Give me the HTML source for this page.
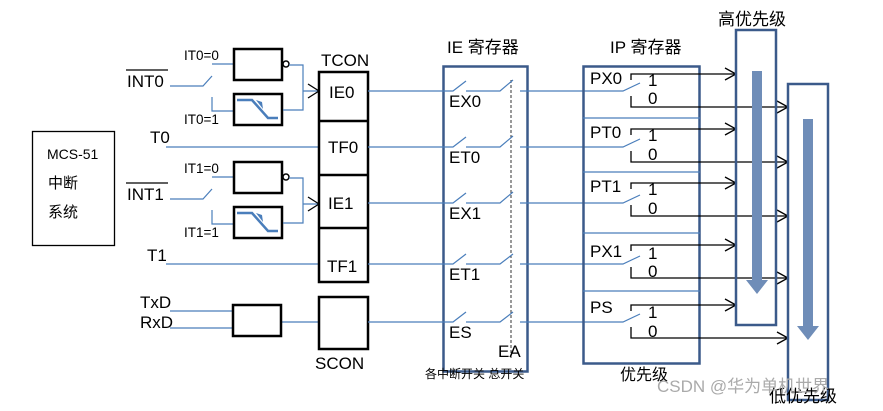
<!DOCTYPE html>
<html><head><meta charset="utf-8"><style>
body{margin:0;background:#fff}
svg{display:block}
text{font-family:"Liberation Sans","Noto Sans CJK SC",sans-serif;font-size:17px;fill:#000}
.s{font-size:13.5px}
.b{stroke:#4a7ebb;stroke-width:1.2;fill:none}
.k{stroke:#000;stroke-width:1.3;fill:none}
.bx{stroke:#000;stroke-width:2.5;fill:#fff}
.nb{stroke:#3b5a8a;stroke-width:2.5;fill:none}
</style></head><body>
<svg width="883" height="411" viewBox="0 0 883 411" xmlns="http://www.w3.org/2000/svg">
<rect x="32.5" y="131.5" width="82" height="114" fill="none" stroke="#000" stroke-width="1.3"/>
<text x="47" y="159" style="font-size:14px">MCS-51</text>
<text x="48" y="188" style="font-size:15px">中断</text>
<text x="48" y="217" style="font-size:15px">系统</text>

<g id="g0">
<text x="127" y="87">INT0</text>
<line x1="126" y1="70" x2="168" y2="70" stroke="#000" stroke-width="1.2"/>
<text x="184" y="60" class="s">IT0=0</text>
<text x="184" y="124" class="s">IT0=1</text>
<path class="b" d="M170 86H203L212 76M212 64H234M212 97V111H234"/>
<rect class="bx" x="234" y="49" width="48" height="31"/>
<circle cx="286" cy="64" r="3" fill="#fff" stroke="#000" stroke-width="1.5"/>
<rect class="bx" x="234" y="94" width="48" height="31"/>
<path d="M237 100H252L268 118H278" stroke="#4a7ebb" stroke-width="2.5" fill="none"/>
<path d="M256 100l7 9l-1-7z" fill="#4a7ebb"/>
<path class="b" d="M289 65H303V110H283M303 91H319"/>
<path class="k" d="M308 84L319 91L308 98"/>
</g>
<g transform="translate(0,113)">
<text x="127" y="87">INT1</text>
<line x1="126" y1="70" x2="168" y2="70" stroke="#000" stroke-width="1.2"/>
<text x="184" y="60" class="s">IT1=0</text>
<text x="184" y="124" class="s">IT1=1</text>
<path class="b" d="M170 86H203L212 76M212 64H234M212 97V111H234"/>
<rect class="bx" x="234" y="49" width="48" height="31"/>
<circle cx="286" cy="64" r="3" fill="#fff" stroke="#000" stroke-width="1.5"/>
<rect class="bx" x="234" y="94" width="48" height="31"/>
<path d="M237 100H252L268 118H278" stroke="#4a7ebb" stroke-width="2.5" fill="none"/>
<path d="M256 100l7 9l-1-7z" fill="#4a7ebb"/>
<path class="b" d="M289 65H303V110H283M303 91H319"/>
<path class="k" d="M308 84L319 91L308 98"/>
</g>

<text x="150" y="143">T0</text>
<path class="b" d="M166 147H319"/>
<text x="147" y="261">T1</text>
<path class="b" d="M166 264H319"/>
<text x="140" y="308">TxD</text>
<text x="140" y="328">RxD</text>
<path class="b" d="M170 311H233M170 328H233M282 322H319"/>
<rect class="bx" x="233" y="305" width="48" height="31"/>

<text x="321" y="66">TCON</text>
<rect class="bx" x="319" y="72" width="49" height="210"/>
<path d="M319 121H368M319 175H368M319 228H368" stroke="#000" stroke-width="2.5"/>
<text x="329" y="98">IE0</text>
<text x="328" y="153">TF0</text>
<text x="328" y="209">IE1</text>
<text x="327" y="272">TF1</text>
<rect class="bx" x="319" y="297" width="49" height="52"/>
<text x="315" y="369">SCON</text>

<text x="447" y="53">IE 寄存器</text>
<rect class="nb" x="443.5" y="66.5" width="84" height="305"/>
<line x1="511" y1="80" x2="511" y2="360" stroke="#333" stroke-width="1" stroke-dasharray="3,2"/>
<g id="sw">
<path class="b" d="M368 91H453L466 81M466 91H500L513 80M520 91H623L640 83"/>
</g>
<use href="#sw" transform="translate(0,56)"/>
<use href="#sw" transform="translate(0,112)"/>
<path class="b" d="M368 264H453L466 254M466 264H500L513 254M520 264H623L640 256"/>
<path class="b" d="M368 322H453L466 312M466 322H500L513 312M520 322H623L640 314"/>
<text x="449" y="107">EX0</text>
<text x="449" y="163">ET0</text>
<text x="449" y="219">EX1</text>
<text x="449" y="280">ET1</text>
<text x="449" y="338">ES</text>
<text x="498" y="357">EA</text>
<text x="425" y="378" style="font-size:12px">各中断开关 总开关</text>

<text x="610" y="53">IP 寄存器</text>
<rect class="nb" x="583.5" y="66.5" width="116" height="297"/>
<path d="M583 118H700M583 172H700M583 233H700M583 291H700" stroke="#4a7ebb" stroke-width="1.3"/>
<text x="620" y="380" style="font-size:16px">优先级</text>
<g id="pp">
<path class="k" d="M631 80V74H736M631 96V107H788"/>
<path class="k" d="M725 68L736 74L725 80M777 101L788 107L777 113"/>
</g>
<text x="590" y="84">PX0</text><text x="648" y="86">1</text><text x="648" y="104">0</text>
<use href="#pp" transform="translate(0,55)"/>
<text x="590" y="138">PT0</text><text x="648" y="141">1</text><text x="648" y="160">0</text>
<use href="#pp" transform="translate(0,109)"/>
<text x="590" y="192">PT1</text><text x="648" y="195">1</text><text x="648" y="214">0</text>
<use href="#pp" transform="translate(0,171)"/>
<text x="590" y="257">PX1</text><text x="648" y="259">1</text><text x="648" y="277">0</text>
<use href="#pp" transform="translate(0,231)"/>
<text x="590" y="313">PS</text><text x="648" y="318">1</text><text x="648" y="337">0</text>

<text x="718" y="25" style="font-size:17px">高优先级</text>
<rect class="nb" x="736" y="30" width="40" height="295"/>
<rect class="nb" x="788" y="84" width="40" height="316"/>
<rect x="752" y="71" width="10" height="212" fill="#6f8db8"/>
<path d="M746 280H768L757 294Z" fill="#6f8db8"/>
<rect x="803" y="119" width="10" height="210" fill="#6f8db8"/>
<path d="M797 326H819L808 340Z" fill="#6f8db8"/>
<text x="769" y="402" style="font-size:17px">低优先级</text>
<text x="657" y="392" style="font-size:17px;fill:#aaa">CSDN @华为单机世界</text>
</svg>
</body></html>
